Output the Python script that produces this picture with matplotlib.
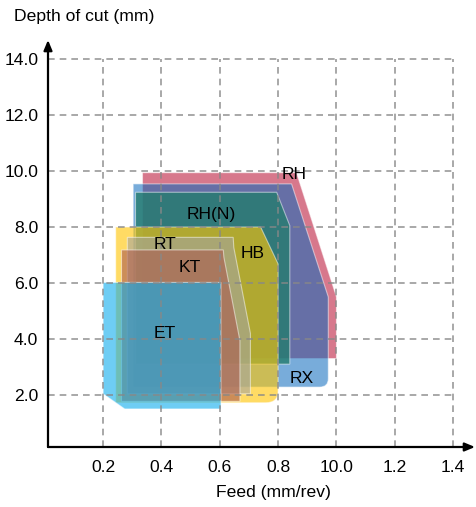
import matplotlib
matplotlib.use("Agg")
import matplotlib.pyplot as plt
import numpy as np
from matplotlib.path import Path
from matplotlib.patches import PathPatch

plt.rcParams['font.family'] = ['Liberation Sans', 'DejaVu Sans']
FS = 12.6

# operating regions (feed mm/rev, depth mm)
rh_x = [0.335, 0.863, 1.0, 1.0, 0.335]
rh_y = [9.94, 9.94, 5.5, 3.3, 3.3]
rx_x = [0.303, 0.846, 0.972, 0.972, 0.303]
rx_y = [9.54, 9.54, 5.5, 2.28, 2.28]
rhn_x = [0.311, 0.795, 0.84, 0.84, 0.311]
rhn_y = [9.24, 9.24, 8.05, 3.1, 3.1]
hb_x = [0.243, 0.74, 0.80, 0.80, 0.243]
hb_y = [8.0, 8.0, 6.68, 1.72, 1.72]
rt_x = [0.283, 0.646, 0.648, 0.705, 0.705, 0.283]
rt_y = [7.63, 7.63, 7.27, 4.2, 2.04, 2.04]
kt_x = [0.263, 0.612, 0.614, 0.669, 0.669, 0.263]
kt_y = [7.18, 7.18, 6.92, 3.94, 1.77, 1.77]
et_x = [0.2, 0.604, 0.604, 0.274, 0.2]
et_y = [6.02, 6.02, 1.5, 1.5, 2.04]

labels = ['RH', 'RX', 'RH(N)', 'HB', 'RT', 'KT', 'ET']
label_x = [0.855, 0.88, 0.571, 0.714, 0.411, 0.497, 0.411]
label_y = [9.89, 2.57, 8.46, 7.04, 7.39, 6.56, 4.18]

x_ticks = [0.2, 0.4, 0.6, 0.8, 1.0, 1.2, 1.4]
x_ticklabels = ['0.2', '0.4', '0.6', '0.8', '10.0', '1.2', '1.4']
y_ticks = [2, 4, 6, 8, 10, 12, 14]
y_ticklabels = ['2.0', '4.0', '6.0', '8.0', '10.0', '12.0', '14.0']


def region_path(xs, ys, round_idx=None, rx=0.03, ry=0.3):
    verts, codes = [], []
    n = len(xs)
    for i in range(n):
        if i == round_idx:
            px, py = xs[i - 1], ys[i - 1]
            nx, ny = xs[(i + 1) % n], ys[(i + 1) % n]
            cx, cy = xs[i], ys[i]
            # step back along incoming and outgoing edges
            a = (cx + np.sign(px - cx) * rx, cy + np.sign(py - cy) * ry)
            b = (cx + np.sign(nx - cx) * rx, cy + np.sign(ny - cy) * ry)
            verts += [a, (cx, cy), b]
            codes += [Path.LINETO, Path.CURVE3, Path.CURVE3]
        else:
            verts.append((xs[i], ys[i]))
            codes.append(Path.LINETO)
    codes[0] = Path.MOVETO
    verts.append(verts[0])
    codes.append(Path.CLOSEPOLY)
    return Path(verts, codes)


fig = plt.figure(figsize=(4.76, 5.07), dpi=100)
ax = fig.add_axes([48 / 476, 1 - 447 / 507, 427 / 476, 407 / 507])
ax.set_xlim(0.011, 1.475)
ax.set_ylim(0.14, 14.68)

shapes = [
    (rh_x, rh_y, None, 0.0, 0.0, (208, 96, 120), 0.85),
    (rx_x, rx_y, 3, 0.03, 0.3, (10, 104, 188), 0.55),
    (rhn_x, rhn_y, None, 0.0, 0.0, (36, 124, 110), 0.8),
    (hb_x, hb_y, 3, 0.042, 0.42, (255, 198, 5), 0.62),
    (rt_x, rt_y, None, 0.0, 0.0, (165, 165, 160), 0.6),
    (kt_x, kt_y, None, 0.0, 0.0, (170, 90, 80), 0.6),
    (et_x, et_y, None, 0.0, 0.0, (13, 172, 238), 0.6),
]
for i, (xs, ys, ri, rx, ry, c, a) in enumerate(shapes):
    fc = (c[0] / 255, c[1] / 255, c[2] / 255, a)
    ax.add_patch(PathPatch(region_path(xs, ys, ri, rx, ry), facecolor=fc,
                           edgecolor=(1, 1, 1, 0.5), lw=0.8, zorder=2 + i))

# grid box
for xv in x_ticks:
    ax.plot([xv, xv], [0.14, 14], color='#888888', ls=(0, (4, 3)),
            lw=1.2, alpha=0.85, zorder=20)
for yv in y_ticks:
    ax.plot([0.011, 1.4], [yv, yv], color='#888888', ls=(0, (4, 3)),
            lw=1.2, alpha=0.85, zorder=20)

for t, lx, ly in zip(labels, label_x, label_y):
    ax.text(lx, ly, t, ha='center', va='center', fontsize=FS, zorder=30)

ax.set_xticks(x_ticks)
ax.set_xticklabels(x_ticklabels, fontsize=FS)
ax.set_yticks(y_ticks)
ax.set_yticklabels(y_ticklabels, fontsize=FS)
ax.tick_params(length=0)
ax.tick_params(axis='x', pad=9)
ax.tick_params(axis='y', pad=7)
for s in ax.spines.values():
    s.set_visible(False)
ax.patch.set_alpha(0)

# arrow axes
ax.annotate('', xy=(1.0, 0), xytext=(0, 0), xycoords='axes fraction',
            arrowprops=dict(arrowstyle='-|>,head_length=0.6,head_width=0.25',
                            color='black', lw=1.6, shrinkA=0, shrinkB=0),
            annotation_clip=False, zorder=40)
ax.annotate('', xy=(0, 1.0), xytext=(0, 0), xycoords='axes fraction',
            arrowprops=dict(arrowstyle='-|>,head_length=0.6,head_width=0.25',
                            color='black', lw=1.6, shrinkA=0, shrinkB=0),
            annotation_clip=False, zorder=40)

fig.text(14 / 476, 1 - 17 / 507, 'Depth of cut (mm)', ha='left', va='center', fontsize=FS)
fig.text(274 / 476, 1 - 493 / 507, 'Feed (mm/rev)', ha='center', va='center', fontsize=FS)

fig.savefig('out.png', dpi=100)
